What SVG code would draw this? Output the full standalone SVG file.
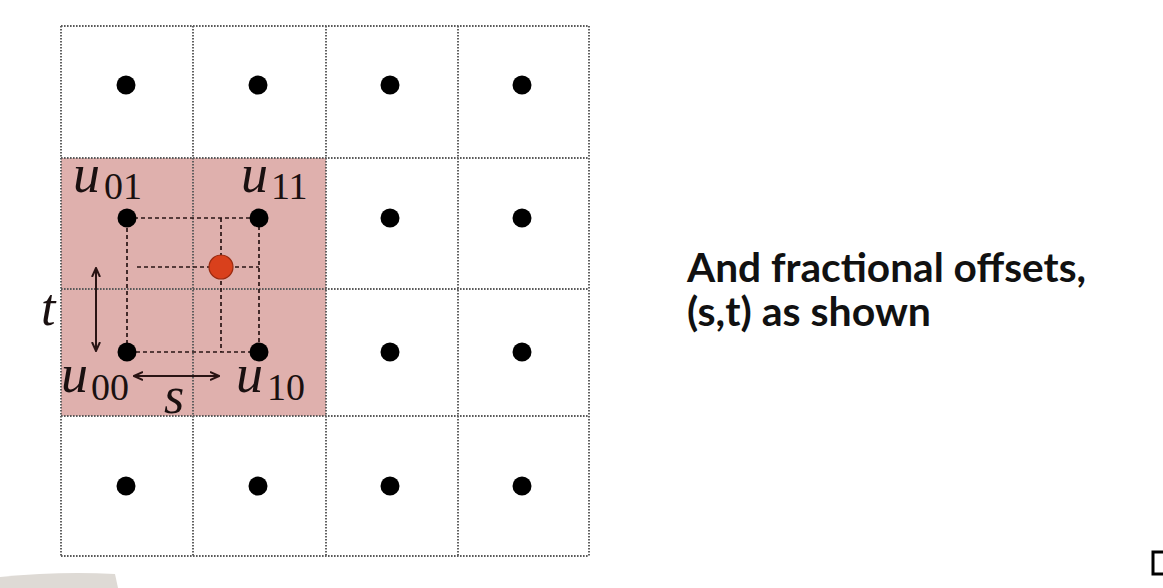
<svg xmlns="http://www.w3.org/2000/svg" width="1163" height="588" viewBox="0 0 1163 588">
<defs>
<style>
.grid{stroke:#5a5a5a;stroke-width:1.9;stroke-dasharray:1.6 1.4;fill:none}
.dash{stroke:#2a1414;stroke-width:1.7;stroke-dasharray:4 3;fill:none}
.dot{fill:#000}
.arr{stroke:#2a1414;stroke-width:2;fill:none}
.m{font-family:"Liberation Serif",serif;font-style:italic;fill:#1a1010}
.sub{font-family:"Liberation Serif",serif;fill:#1a1010;font-size:38px}
.cap{font-family:Lato,"Noto Sans",sans-serif;font-weight:bold;font-size:40px;fill:#111}
</style>
<marker id="ah" markerWidth="10" markerHeight="10" refX="8" refY="5" orient="auto-start-reverse" markerUnits="userSpaceOnUse">
<path d="M0,1 L9,5 L0,9" fill="none" stroke="#2a1414" stroke-width="2"/>
</marker>
</defs>
<rect width="1163" height="588" fill="#fff"/>
<g id="highlight"><rect x="61" y="158" width="265" height="258" fill="#dfb0ad"/></g>
<g id="grid" class="grid">
<path d="M61,26V556M193,26V556M326,26V556M458,26V556M589,26V556"/>
<path d="M61,26H589M61,158H589M61,289H589M61,416H589M61,556H589"/>
</g>
<g id="connectors">
<rect class="dash" x="127" y="218" width="132" height="134"/>
<path class="dash" d="M221,218V352M137,267H259"/>
<path class="arr" d="M96,269V350" marker-start="url(#ah)" marker-end="url(#ah)"/>
<path class="arr" d="M135,376H218" marker-start="url(#ah)" marker-end="url(#ah)"/>
</g>
<g id="dots">
<circle class="dot" cx="126" cy="85" r="9.5"/><circle class="dot" cx="258" cy="85" r="9.5"/><circle class="dot" cx="390" cy="85" r="9.5"/><circle class="dot" cx="522" cy="85" r="9.5"/>
<circle class="dot" cx="390" cy="218" r="9.5"/><circle class="dot" cx="522" cy="218" r="9.5"/>
<circle class="dot" cx="390" cy="352" r="9.5"/><circle class="dot" cx="522" cy="352" r="9.5"/>
<circle class="dot" cx="126" cy="486" r="9.5"/><circle class="dot" cx="258" cy="486" r="9.5"/><circle class="dot" cx="390" cy="486" r="9.5"/><circle class="dot" cx="522" cy="486" r="9.5"/>
</g>
<g id="u01"><circle class="dot" cx="127" cy="218" r="9.5"/><text class="m" x="73" y="192" font-size="54">u</text><text class="sub" x="104" y="199">01</text></g>
<g id="u11"><circle class="dot" cx="259" cy="218" r="9.5"/><text class="m" x="241" y="192" font-size="54">u</text><text class="sub" x="271" y="199">11</text></g>
<g id="u00"><circle class="dot" cx="127" cy="352" r="9.5"/><text class="m" x="61" y="392" font-size="54">u</text><text class="sub" x="91" y="400">00</text></g>
<g id="u10"><circle class="dot" cx="259" cy="352" r="9.5"/><text class="m" x="236" y="392" font-size="54">u</text><text class="sub" x="267" y="400">10</text></g>
<g id="point"><circle cx="221" cy="267" r="12" fill="#d9401c" stroke="#9a2a10" stroke-width="1.2"/></g>
<g id="labels">
<text class="m" x="41" y="325" font-size="52">t</text>
<text class="m" x="164" y="413" font-size="52">s</text>
</g>
<g id="caption">
<text class="cap" x="687" y="282" textLength="399" lengthAdjust="spacingAndGlyphs">And fractional offsets,</text>
<text class="cap" x="687" y="326" textLength="244" lengthAdjust="spacingAndGlyphs">(s,t) as shown</text>
</g>
<g id="artifacts">
<path d="M0,577 Q60,571 115,574 L118,588 L0,588Z" fill="#dedad5"/>
<rect x="1153" y="552" width="12" height="22" fill="none" stroke="#000" stroke-width="3"/>
</g>
</svg>
